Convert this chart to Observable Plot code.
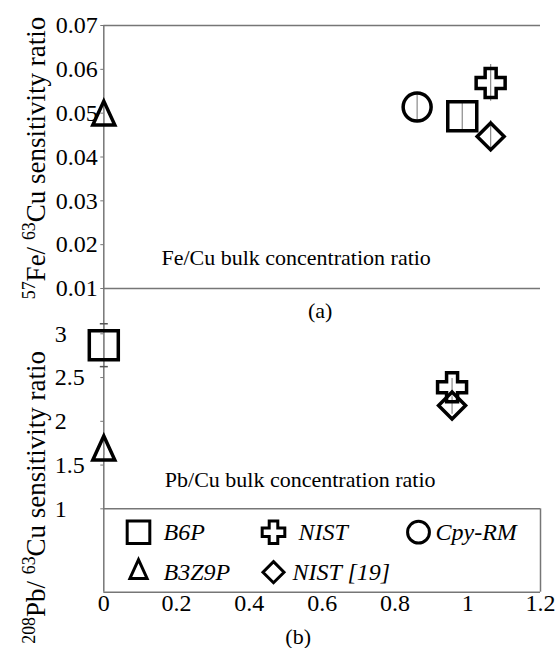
<!DOCTYPE html>
<html><head><meta charset="utf-8">
<script src="https://cdn.jsdelivr.net/npm/d3@7"></script>
<script src="https://cdn.jsdelivr.net/npm/@observablehq/plot@0.6"></script>
<style>
html,body{margin:0;padding:0;background:#fff;}
#chart{position:relative;width:559px;height:648px;overflow:hidden;}
#chart svg{position:absolute;left:0;background:transparent;overflow:visible;}
#chart svg, #chart svg text, #chart svg tspan{font-family:"Liberation Serif","Times New Roman",serif !important;}
</style></head><body><div id="chart"></div>
<script>
// ---- data ----
const series = ["B6P", "NIST", "Cpy-RM", "B3Z9P", "NIST [19]"];
const shapes = ["square", "plus", "circle", "triangle", "diamond"];
// panel (a): 57Fe/63Cu
const feX   = [0.985, 1.063, 0.861, 0, 1.063];
const feY   = [0.0493, 0.0569, 0.0514, 0.0491, 0.0447];
const feErr = [0.0036, 0.0042, 0.0033, 0.0016, 0.0036];
// panel (b): 208Pb/63Cu (no Cpy-RM)
const pbX   = [0, 0.957, null, 0, 0.957];
const pbY   = [2.87, 2.39, null, 1.65, 2.18];
const pbErr = [0.245, 0.1, null, 0.04, 0.1];
const xTicks  = [0, 0.2, 0.4, 0.6, 0.8, 1, 1.2];
const feTicks = [0.01, 0.02, 0.03, 0.04, 0.05, 0.06, 0.07];
const pbTicks = [1, 1.5, 2, 2.5, 3];

// ---- styling ----
const FONT = '"Liberation Serif","Times New Roman",serif';
const AX = "#767676";
const W = 559;

function sym(kind, k = 1) {
  return {draw(ctx) {
    switch (kind) {
      case "square": { const h = 14.5 * k; ctx.moveTo(-h, -h); ctx.lineTo(h, -h); ctx.lineTo(h, h); ctx.lineTo(-h, h); ctx.closePath(); break; }
      case "circle": { const r = 14 * k; ctx.moveTo(r, 0); ctx.arc(0, 0, r, 0, 2 * Math.PI); ctx.closePath(); break; }
      case "plus": { const a = 14.5 * k, b = 5.5 * k;
        ctx.moveTo(-b, -a); ctx.lineTo(b, -a); ctx.lineTo(b, -b); ctx.lineTo(a, -b); ctx.lineTo(a, b); ctx.lineTo(b, b);
        ctx.lineTo(b, a); ctx.lineTo(-b, a); ctx.lineTo(-b, b); ctx.lineTo(-a, b); ctx.lineTo(-a, -b); ctx.lineTo(-b, -b); ctx.closePath(); break; }
      case "diamond": { const d = 13.5 * k; ctx.moveTo(0, -d); ctx.lineTo(d, 0); ctx.lineTo(0, d); ctx.lineTo(-d, 0); ctx.closePath(); break; }
      case "triangle": { const w = 11 * k, h = 24 * k; ctx.moveTo(0, -2 * h / 3); ctx.lineTo(w, h / 3); ctx.lineTo(-w, h / 3); ctx.closePath(); break; }
      case "cap": { ctx.moveTo(-4, 0); ctx.lineTo(4, 0); break; }
    }
  }};
}

const feData = series.map((s, i) => ({s, shape: shapes[i], x: feX[i], y: feY[i], e: feErr[i]}));
const pbData = series.map((s, i) => ({s, shape: shapes[i], x: pbX[i], y: pbY[i], e: pbErr[i]})).filter(d => d.y != null);

function pointMarks(data) {
  return [
    Plot.ruleX(data, {x: "x", y1: d => d.y - d.e, y2: d => d.y + d.e, stroke: "#8a8a8a", strokeWidth: 1.2}),
    ...shapes.map(sh => Plot.dot(data.filter(d => d.shape === sh),
      {x: "x", y: "y", symbol: sym(sh), stroke: "black", strokeWidth: 3.5, fill: "none", strokeLinejoin: "miter"}))
  ];
}

function superTitle(svg, full, parts) {
  svg.querySelectorAll("text").forEach(t => {
    if (t.textContent === full) {
      t.textContent = "";
      parts.forEach(([s, sup]) => {
        const ts = document.createElementNS("http://www.w3.org/2000/svg", "tspan");
        if (sup) { ts.setAttribute("baseline-shift", "super"); ts.setAttribute("font-size", "66%"); }
        ts.textContent = s;
        t.appendChild(ts);
      });
    }
  });
}

// ---- panel (a) ----
const feTitle = "57Fe/ 63Cu sensitivity ratio";
const topPlot = Plot.plot({
  width: W, height: 330,
  marginLeft: 103.3, marginRight: 19, marginTop: 25, marginBottom: 42,
  style: {fontFamily: FONT, fontSize: "24px", background: "transparent", color: "black"},
  x: {domain: [0, 1.2], axis: null},
  y: {domain: [0.01, 0.07]},
  marks: [
    Plot.ruleY([0.07, 0.01], {stroke: AX, strokeWidth: 1.5}),
    Plot.ruleX([0], {stroke: AX, strokeWidth: 1.5}),
    Plot.axisY(feTicks, {tickSize: 3, tickPadding: 3, stroke: AX, fill: "black", tickFormat: d => d.toFixed(2), label: null, fontSize: 24, fontFamily: FONT}),
    ...pointMarks(feData),
    Plot.text(["Fe/Cu bulk concentration ratio"], {frameAnchor: "bottom", dx: -26, dy: -31, fontSize: 22, lineAnchor: "middle", fontFamily: FONT}),
    Plot.text(["(a)"], {frameAnchor: "bottom", dx: -2, dy: 22, fontSize: 22, lineAnchor: "middle", fontFamily: FONT}),
    Plot.text([feTitle], {frameAnchor: "left", rotate: -90, textAnchor: "middle", dx: -67, dy: 1, fontSize: 27, lineAnchor: "middle", fontFamily: FONT})
  ]
});
superTitle(topPlot, feTitle, [["57", true], ["Fe/ ", false], ["63", true], ["Cu sensitivity ratio", false]]);
topPlot.style.top = "0px";

// ---- panel (b) ----
const pbTitle = "208Pb/ 63Cu sensitivity ratio";
const legCol = [0, 1, 2, 0, 1], legRow = [0, 0, 0, 1, 1];
const colX = [34.7, 169.7, 314.7], rowY = [-60, -20];
const textGap = [25, 25, 17, 25, 19];
const legendMarks = series.flatMap((s, i) => [
  Plot.dot([s], {frameAnchor: "bottom-left", dx: colX[legCol[i]], dy: rowY[legRow[i]],
    symbol: sym(shapes[i], 0.78), stroke: "black", strokeWidth: 3, fill: "none"}),
  Plot.text([s], {frameAnchor: "bottom-left", dx: colX[legCol[i]] + textGap[i], dy: rowY[legRow[i]],
    textAnchor: "start", lineAnchor: "middle", fontSize: 24, fontStyle: "italic", fontFamily: FONT})
]);

const botPlot = Plot.plot({
  width: W, height: 360,
  marginLeft: 103.3, marginRight: 19, marginTop: 0, marginBottom: 56.3,
  style: {fontFamily: FONT, fontSize: "24px", background: "transparent", color: "black"},
  x: {domain: [0, 1.2]},
  y: {domain: [0.047, 3.518]},
  marks: [
    Plot.ruleX([0], {stroke: AX, strokeWidth: 1.5}),
    Plot.ruleY([1, 0.047], {stroke: AX, strokeWidth: 1.5}),
    Plot.ruleX([1.2], {y1: 0.047, y2: 1, stroke: AX, strokeWidth: 1.5}),
    Plot.axisX(xTicks, {anchor: "bottom", tickSize: 0, tickPadding: 2, tickFormat: d => String(d), label: null, fontSize: 24, fontFamily: FONT}),
    Plot.axisY(pbTicks, {tickSize: 3, tickPadding: 46, textAnchor: "start", stroke: AX, fill: "black", tickFormat: d => String(d), label: null, fontSize: 24, fontFamily: FONT}),
    ...pointMarks(pbData),
    Plot.dot(pbData.filter(d => d.e >= 0.2), {x: "x", y: d => d.y + d.e, symbol: sym("cap"), stroke: "#555", strokeWidth: 1.5}),
    Plot.dot(pbData.filter(d => d.e >= 0.2), {x: "x", y: d => d.y - d.e, symbol: sym("cap"), stroke: "#555", strokeWidth: 1.5}),
    Plot.text(["Pb/Cu bulk concentration ratio"], {frameAnchor: "bottom", dx: -22, dy: -112, fontSize: 22, lineAnchor: "middle", fontFamily: FONT}),
    Plot.text(["(b)"], {frameAnchor: "bottom", dx: -24, dy: 45, fontSize: 22, lineAnchor: "middle", fontFamily: FONT}),
    Plot.text([pbTitle], {frameAnchor: "left", rotate: -90, textAnchor: "middle", dx: -67, dy: 57, fontSize: 27, lineAnchor: "middle", fontFamily: FONT}),
    ...legendMarks
  ]
});
superTitle(botPlot, pbTitle, [["208", true], ["Pb/ ", false], ["63", true], ["Cu sensitivity ratio", false]]);
botPlot.style.top = "288px";

const chart = document.getElementById("chart");
chart.appendChild(topPlot);
chart.appendChild(botPlot);
</script>
</body></html>
